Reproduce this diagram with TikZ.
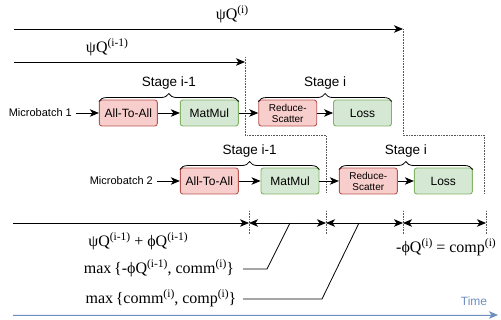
\documentclass[tikz,border=0pt]{standalone}
\usepackage{fontspec}
\setmainfont{Liberation Serif}
\setsansfont{Liberation Sans}
\usetikzlibrary{arrows.meta,decorations.pathreplacing}
\definecolor{redfill}{HTML}{F8CECC}
\definecolor{redline}{HTML}{B85450}
\definecolor{greenfill}{HTML}{D5E8D4}
\definecolor{greenline}{HTML}{82B366}
\definecolor{timeblue}{HTML}{6C8EBF}
\newcommand{\Sp}[1]{\raisebox{5.5pt}{\fontsize{11.5}{11.5}\selectfont #1}}
\tikzset{
  box/.style={draw, rounded corners=2.5pt, line width=0.9pt, minimum width=58pt, minimum height=26pt, inner sep=0pt, font=\sffamily\fontsize{12}{12}\selectfont},
  redbox/.style={box, fill=redfill, draw=redline},
  greenbox/.style={box, fill=greenfill, draw=greenline},
  arr/.style={line width=0.8pt, -{Stealth[length=9pt,width=7.5pt,inset=2.5pt]}},
  darr/.style={line width=0.8pt, {Stealth[length=9pt,width=7.5pt,inset=2.5pt]}-{Stealth[length=9pt,width=7.5pt,inset=2.5pt]}},
  dots/.style={densely dotted, line width=0.6pt, gray!70!black},
  brc/.style={decorate, decoration={brace, amplitude=8pt}, line width=0.8pt},
  stagelbl/.style={font=\sffamily\fontsize{13.5}{13.5}\selectfont},
  mlbl/.style={font=\fontsize{16}{16}\selectfont, inner sep=0pt},
  mblbl/.style={font=\sffamily\fontsize{11}{11}\selectfont, inner sep=0pt}
}
\begin{document}
\begin{tikzpicture}[x=1pt, y=-1pt]
\useasboundingbox (0,0) rectangle (501,320);
% top arrows
\coordinate (t0) at (14,29);
\coordinate (t1) at (403,29);
\draw[arr] (t0) -- (t1);
\node[mlbl] (psiI) at (232,14) {ψQ\Sp{(i)}};
\coordinate (s0) at (14,62);
\coordinate (s1) at (245,62);
\draw[arr] (s0) -- (s1);
\node[mlbl] (psiIm) at (107,47) {ψQ\Sp{(i-1)}};
% dotted lines
\coordinate (d1a) at (245,57);
\coordinate (d1b) at (245,135);
\coordinate (d1c) at (326,135);
\coordinate (d1d) at (326,193);
\draw[dots] (d1a) -- (d1b) -- (d1c) -- (d1d);
\coordinate (d2a) at (403,29);
\coordinate (d2b) at (403,135);
\coordinate (d2c) at (484,135);
\coordinate (d2d) at (484,193);
\draw[dots] (d2a) -- (d2b) -- (d2c) -- (d2d);
% row 1
\node[redbox] (a1) at (128.3,113) {All-To-All};
\node[greenbox] (m1) at (209.3,113) {MatMul};
\node[redbox, font=\sffamily\fontsize{10}{11}\selectfont, align=center] (r1) at (287.7,113) {Reduce-\\Scatter};
\node[greenbox] (l1) at (362.5,113) {Loss};
\node[mblbl, anchor=east] (mb1) at (72,113) {Microbatch 1};
\draw[arr] (mb1.east) ++(4,0) coordinate (mb1s) -- (a1.west);
\draw[arr] (a1) -- (m1);
\draw[arr] (m1) -- (r1);
\draw[arr] (r1) -- (l1);
\draw[brc] ([yshift=-2pt]a1.north west) -- ([yshift=-2pt]m1.north east) node[midway, above=9pt, stagelbl] (st1) {Stage i-1};
\draw[brc] ([yshift=-2pt]r1.north west) -- ([yshift=-2pt]l1.north east) node[midway, above=9pt, stagelbl] (st2) {Stage i};
% row 2
\node[redbox] (a2) at (209.3,181) {All-To-All};
\node[greenbox] (m2) at (290,181) {MatMul};
\node[redbox, font=\sffamily\fontsize{10}{11}\selectfont, align=center] (r2) at (368.3,181) {Reduce-\\Scatter};
\node[greenbox] (l2) at (443.3,181) {Loss};
\node[mblbl, anchor=east] (mb2) at (153,181) {Microbatch 2};
\draw[arr] (mb2.east) ++(4,0) coordinate (mb2s) -- (a2.west);
\draw[arr] (a2) -- (m2);
\draw[arr] (m2) -- (r2);
\draw[arr] (r2) -- (l2);
\draw[brc] ([yshift=-2pt]a2.north west) -- ([yshift=-2pt]m2.north east) node[midway, above=9pt, stagelbl] (st3) {Stage i-1};
\draw[brc] ([yshift=-2pt]r2.north west) -- ([yshift=-2pt]l2.north east) node[midway, above=9pt, stagelbl] (st4) {Stage i};
% bottom timeline
\coordinate (b0) at (13,223);
\coordinate (p1) at (249,223);
\coordinate (p2) at (326,223);
\coordinate (p3) at (403,223);
\coordinate (p4) at (486,223);
\foreach \p in {p1,p2,p3,p4} {\draw[dots] ([yshift=-11pt]\p) -- ([yshift=13pt]\p);}
\draw[arr] (b0) -- (p1);
\draw[darr] (p1) -- (p2);
\draw[darr] (p2) -- (p3);
\draw[darr] (p3) -- (p4);
\node[mlbl] (lab1) at (138,241) {ψQ\Sp{(i-1)} + ϕQ\Sp{(i-1)}};
\node[mlbl] (lab2) at (159,268) {max\,\{-ϕQ\Sp{(i-1)}, comm\Sp{(i)}\}};
\node[mlbl] (lab3) at (161,298) {max\,\{comm\Sp{(i)}, comp\Sp{(i)}\}};
\node[mlbl] (lab4) at (446,247) {-ϕQ\Sp{(i)} = comp\Sp{(i)}};
\coordinate (c2a) at (243,269);
\coordinate (c2b) at (267,269);
\coordinate (c2c) at (290,223);
\draw[line width=0.8pt] (c2a) -- (c2b) -- (c2c);
\coordinate (c3a) at (243,299);
\coordinate (c3b) at (322,299);
\coordinate (c3c) at (359,223);
\draw[line width=0.8pt] (c3a) -- (c3b) -- (c3c);
% time axis
\node[font=\sffamily\fontsize{12}{12}\selectfont, text=timeblue] (time) at (474,301) {Time};
\coordinate (ta) at (13,315);
\coordinate (tb) at (498,315);
\draw[arr, draw=timeblue, fill=timeblue] (ta) -- (tb);
\end{tikzpicture}
\end{document}
